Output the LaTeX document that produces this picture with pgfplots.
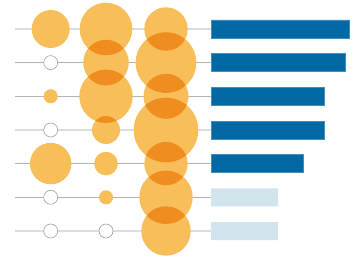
\documentclass[border=0pt]{standalone}
\usepackage{pgfplots}
\pgfplotsset{compat=1.18}
\pgfdeclareplotmark{fc}{\pgfpathcircle{\pgfpoint{0pt}{0pt}}{\pgfplotmarksize}\pgfusepathqfill}
\definecolor{bub}{RGB}{247,190,90}
\definecolor{dblue}{RGB}{0,105,163}
\definecolor{dedge}{RGB}{70,140,190}
\definecolor{lblue}{RGB}{210,228,238}
\definecolor{lineA}{RGB}{221,221,221}
\definecolor{lineB}{RGB}{180,180,180}
\definecolor{ring}{RGB}{160,160,160}
\pgfplotstableread{
x y r
50.7 29.0 19.0
106 29.0 26.3
166 29.0 21.7
106 62.6 22.8
166 62.6 30.3
50.7 96.3 7.0
106 96.3 26.7
166 96.3 22.5
106 130.0 14.0
166 130.0 32.3
50.7 163.6 20.7
106 163.6 11.8
166 163.6 21.7
106 197.3 7.0
166 197.3 26.7
166 231.0 24.7
}\bubbles
\pgfplotstableread{
x y
50.7 62.6
50.7 130.0
50.7 197.3
50.7 231.0
106 231.0
}\empties
\pgfplotstableread{
v y
138.3 29.0
134.0 62.6
113.3 96.3
113.3 130.0
92.7 163.6
}\darkbars
\pgfplotstableread{
v y
67.0 197.3
67.0 231.0
}\lightbars
\begin{document}
\begin{tikzpicture}
\useasboundingbox (0,0) rectangle (360bp,257bp);
\begin{axis}[at={(0,0)}, anchor=south west, scale only axis,
  width=360bp, height=257bp, xmin=0, xmax=360, ymin=0, ymax=257,
  y dir=reverse, hide axis, clip=false]
\addplot[lineA, line width=1.6bp] coordinates {(15,29.0) (211,29.0)};
\addplot[lineB, line width=0.8bp] coordinates {(15,62.6) (211,62.6)};
\addplot[lineB, line width=0.8bp] coordinates {(15,96.3) (211,96.3)};
\addplot[lineA, line width=1.6bp] coordinates {(15,130.0) (211,130.0)};
\addplot[lineB, line width=0.8bp] coordinates {(15,163.6) (211,163.6)};
\addplot[lineB, line width=0.8bp] coordinates {(15,197.3) (211,197.3)};
\addplot[lineA, line width=1.6bp] coordinates {(15,231.0) (211,231.0)};
\addplot[only marks, mark=*, mark size=7bp,
  mark options={draw=ring, fill=white, line width=0.6bp}]
  table[x=x, y=y] {\empties};
% white underlay hides the lines beneath the bubbles
\addplot[scatter, only marks, mark=fc,
  scatter/use mapped color={fill=white},
  mark options={fill=white},
  visualization depends on={\thisrow{r} \as \rr},
  scatter/@pre marker code/.append style={/tikz/mark size=\rr bp}]
  table[x=x, y=y, meta=r] {\bubbles};
\addplot[scatter, only marks, mark=fc,
  scatter/use mapped color={fill=bub},
  mark options={fill=bub, blend mode=multiply},
  visualization depends on={\thisrow{r} \as \rr},
  scatter/@pre marker code/.append style={/tikz/mark size=\rr bp}]
  table[x=x, y=y, meta=r] {\bubbles};
\end{axis}
\begin{axis}[at={(211bp,0)}, anchor=south west, scale only axis,
  width=149bp, height=257bp, xmin=0, xmax=149, ymin=0, ymax=257,
  y dir=reverse, hide axis, clip=false, xbar, bar width=18bp]
\addplot[fill=dblue, draw=dedge, line width=0.5bp, bar shift=0pt] table[x=v, y=y] {\darkbars};
\addplot[fill=lblue, draw=none, bar shift=0pt] table[x=v, y=y] {\lightbars};
\end{axis}
\end{tikzpicture}
\end{document}
